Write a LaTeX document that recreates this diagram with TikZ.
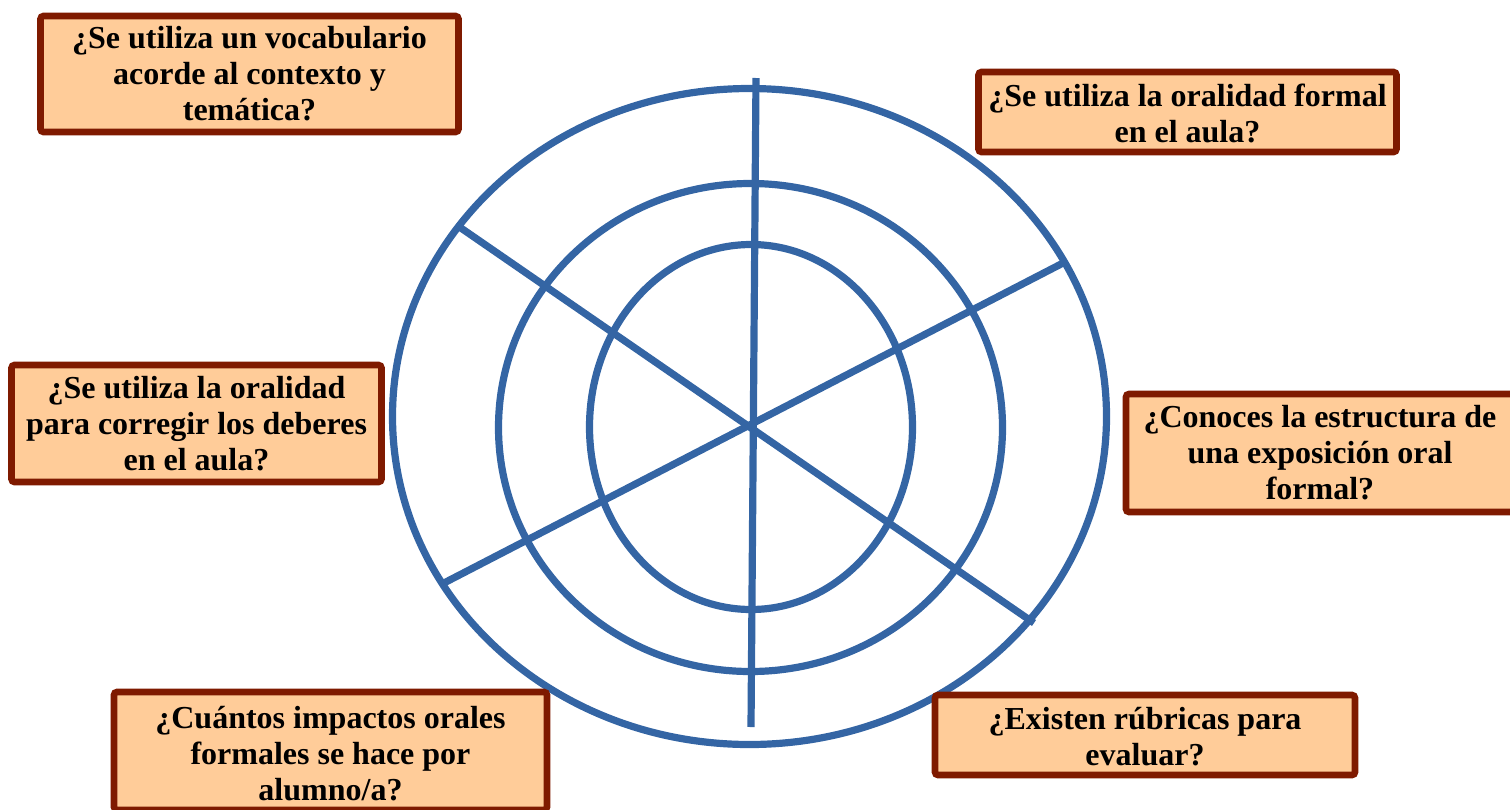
\documentclass[tikz,border=0pt]{standalone}
\usepackage{fontspec}
\setmainfont{Liberation Serif}
\definecolor{wheelblue}{HTML}{3465A4}
\definecolor{boxfill}{HTML}{FFCC99}
\definecolor{boxline}{HTML}{7F1A00}
\begin{document}
\begin{tikzpicture}[x=0.5pt,y=-0.5pt,
  wheel/.style={draw=wheelblue,line width=3.6pt},
  qbox/.style={draw=boxline,fill=boxfill,line width=3.3pt,rounded corners=1.5pt,
    rectangle,inner sep=0pt,align=center,text=black,
    font=\fontsize{16}{18}\selectfont\bfseries}]
\useasboundingbox (0,0) rectangle (1510,809);
\clip (0,0) rectangle (1510,809);
% rings
\draw[wheel] (749.5,416.5) ellipse [x radius=357,y radius=328];
\draw[wheel] (750.5,427.5) ellipse [x radius=252,y radius=244];
\draw[wheel] (751,427) ellipse [x radius=161.5,y radius=182.5];
% spokes
\coordinate (vt) at (756,78);
\coordinate (vb) at (751,727);
\coordinate (d1a) at (458,226);
\coordinate (d1b) at (1034,623);
\coordinate (d2a) at (1065,262);
\coordinate (d2b) at (442,584);
\draw[wheel] (vt) -- (vb);
\draw[wheel] (d1a) -- (d1b);
\draw[wheel] (d2a) -- (d2b);
% question boxes
\node[qbox,minimum width=209pt,minimum height=58pt] (q1) at (249.5,74)
  {¿Se utiliza un vocabulario\\acorde al contexto y\\temática?};
\node[qbox,minimum width=209pt,minimum height=40pt] (q2) at (1187.5,112)
  {\rule{0pt}{13pt}¿Se utiliza la oralidad formal\\en el aula?};
\node[qbox,minimum width=185pt,minimum height=58.5pt] (q3) at (196.5,423.5)
  {¿Se utiliza la oralidad\\para corregir los deberes\\en el aula?};
\node[qbox,minimum width=194pt,minimum height=59pt] (q4) at (1320,453)
  {¿Conoces la estructura de\\una exposición oral\\formal?};
\node[qbox,minimum width=216.5pt,minimum height=59pt] (q5) at (330.5,751)
  {\rule{0pt}{14pt}¿Cuántos impactos orales\\formales se hace por\\alumno/a?};
\node[qbox,minimum width=210pt,minimum height=40pt] (q6) at (1145,735)
  {\rule{0pt}{13pt}¿Existen rúbricas para\\evaluar?};
\end{tikzpicture}
\end{document}
